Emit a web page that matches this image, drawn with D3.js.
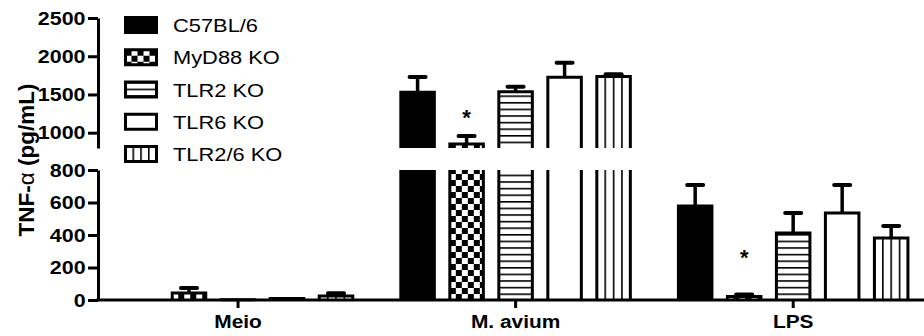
<!DOCTYPE html>
<meta charset="utf-8">
<script src="https://d3js.org/d3.v7.min.js"></script>
<style>
  body { margin: 0; background: #fff; }
  text { font-family: Arial, "Liberation Sans", sans-serif; }
</style>
<body>
<svg width="924" height="336"></svg>
<script>
    // ---- data ----
    var categories = ["Meio", "M. avium", "LPS"];
    var series     = ["C57BL/6", "MyD88 KO", "TLR2 KO", "TLR6 KO", "TLR2/6 KO"];
    var c57Mean    = [0, 1530, 578],  c57Err    = [0, 200, 130];
    var myd88Mean  = [43, 852, 22],   myd88Err  = [31, 105, 12];
    var tlr2Mean   = [2, 1535, 412],  tlr2Err   = [0, 65, 123];
    var tlr6Mean   = [10, 1725, 535], tlr6Err   = [0, 190, 173];
    var tlr26Mean  = [25, 1735, 382], tlr26Err  = [16, 30, 73];
    var lowerTicks = [0, 200, 400, 600, 800];
    var upperTicks = [1000, 1500, 2000, 2500];
    var breakAt    = 800;
    var stars      = [{cat: "M. avium", s: "MyD88 KO", v: 1260}, {cat: "LPS", s: "MyD88 KO", v: 290}];

    var means  = [c57Mean, myd88Mean, tlr2Mean, tlr6Mean, tlr26Mean];
    var errs   = [c57Err, myd88Err, tlr2Err, tlr6Err, tlr26Err];
    var fills  = ["solid", "checker", "hlines", "open", "vlines"];

    var svg = d3.select('svg');
    var defs = svg.append('defs');
    var sx = 1.1; // the figure's text is a bit stretched horizontally

    var axisX = 98;
    var x0 = d3.scaleBand().domain(categories).range([99.25, 932]);
    var x1 = d3.scaleBand().domain(series).range([16.25, 261.25]).paddingInner(0.316).paddingOuter(0.158);
    var yLow = d3.scaleLinear().domain([0, breakAt]).range([300, 170]);
    var yUp  = d3.scaleLinear().domain([breakAt, 2500]).range([148, 18]);
    function yv(v){ return v <= breakAt ? yLow(v) : yUp(v); }

    var pid = 0;
    function pattern(kind, x, y, w){
        var id = 'p' + (pid++);
        var p, cw;
        if (kind === 'checker'){
            cw = 6;
            p = defs.append('pattern').attr('id', id).attr('patternUnits', 'userSpaceOnUse')
                .attr('x', x).attr('y', y).attr('width', cw * 2).attr('height', cw * 2);
            p.append('rect').attr('width', cw * 2).attr('height', cw * 2).attr('fill', '#fff');
            p.append('rect').attr('width', cw).attr('height', cw).attr('fill', '#000');
            p.append('rect').attr('x', cw).attr('y', cw).attr('width', cw).attr('height', cw).attr('fill', '#000');
        } else if (kind === 'hlines'){
            p = defs.append('pattern').attr('id', id).attr('patternUnits', 'userSpaceOnUse')
                .attr('x', x).attr('y', y).attr('width', 10).attr('height', 6.6);
            p.append('rect').attr('width', 10).attr('height', 6.6).attr('fill', '#fff');
            p.append('rect').attr('width', 10).attr('height', 1.6).attr('fill', '#000');
        } else if (kind === 'vlines'){
            cw = w / 4;
            p = defs.append('pattern').attr('id', id).attr('patternUnits', 'userSpaceOnUse')
                .attr('x', x - 0.8).attr('y', y).attr('width', cw).attr('height', 10);
            p.append('rect').attr('width', cw).attr('height', 10).attr('fill', '#fff');
            p.append('rect').attr('width', 1.6).attr('height', 10).attr('fill', '#000');
        }
        return 'url(#' + id + ')';
    }
    function fillFor(kind, x, y, w){
        if (kind === 'solid') return '#000';
        if (kind === 'open') return '#fff';
        return pattern(kind, x, y, w);
    }

    // ---- bars ----
    var bw = x1.bandwidth();
    var gBars = svg.append('g');
    categories.forEach(function(cat, ci){
        series.forEach(function(s, si){
            var v = means[si][ci], e = errs[si][ci];
            var x = x0(cat) + x1(s);
            if (v <= 0) return;
            var f = fillFor(fills[si], x, yLow(0), bw);
            var parts = v > breakAt
                ? [{top: yLow(breakAt), bot: yLow(0), cap: false}, {top: yUp(v), bot: yUp(breakAt), cap: true}]
                : [{top: yLow(v), bot: yLow(0), cap: true}];
            parts.forEach(function(p){
                gBars.append('rect').attr('x', x).attr('y', p.top).attr('width', bw)
                    .attr('height', p.bot - p.top).attr('fill', f);
                var d = p.cap
                    ? 'M' + x + ',' + p.bot + 'V' + p.top + 'H' + (x + bw) + 'V' + p.bot
                    : 'M' + x + ',' + p.bot + 'V' + p.top + 'M' + (x + bw) + ',' + p.top + 'V' + p.bot;
                gBars.append('path').attr('d', d).attr('fill', 'none')
                    .attr('stroke', '#000').attr('stroke-width', 3);
            });
            if (e > 0){
                var cx = x + bw / 2, yt = yv(v + e);
                gBars.append('line').attr('x1', cx).attr('x2', cx).attr('y1', yv(v)).attr('y2', yt)
                    .attr('stroke', '#000').attr('stroke-width', 3.5);
                gBars.append('line').attr('x1', cx - 8).attr('x2', cx + 8).attr('y1', yt).attr('y2', yt)
                    .attr('stroke', '#000').attr('stroke-width', 4).attr('stroke-linecap', 'round');
            }
        });
    });

    // significance stars
    stars.forEach(function(st){
        svg.append('text')
            .attr('x', x0(st.cat) + x1(st.s) + bw / 2)
            .attr('y', yv(st.v) + 12)
            .attr('text-anchor', 'middle')
            .attr('font-size', 22).attr('font-weight', 'bold')
            .text('*');
    });

    // ---- axes ----
    function styleAxis(g){
        g.attr('font-family', null).attr('font-size', null);
        g.selectAll('path, line').attr('stroke', '#000').attr('stroke-width', 3);
        g.selectAll('text').attr('fill', '#000').attr('font-weight', 'bold');
    }
    var fmt = d3.format('d');
    svg.append('g').attr('transform', 'translate(' + axisX + ',0)')
        .call(d3.axisLeft(yLow).tickValues(lowerTicks).tickFormat(fmt).tickSize(10).tickSizeOuter(0).tickPadding(1))
        .call(styleAxis);
    svg.append('g').attr('transform', 'translate(' + axisX + ',0)')
        .call(d3.axisLeft(yUp).tickValues(upperTicks).tickFormat(fmt).tickSize(10).tickSizeOuter(0).tickPadding(1))
        .call(styleAxis);
    svg.selectAll('g.tick text').attr('font-size', 19)
        .attr('transform', 'scale(1.13,1)');

    var gX = svg.append('g').attr('transform', 'translate(0,' + yLow(0) + ')')
        .call(d3.axisBottom(x0).tickSize(8).tickSizeOuter(0).tickPadding(7))
        .call(styleAxis);
    gX.select('.domain').attr('d', 'M' + (axisX - 1.5) + ',0H932');
    gX.selectAll('text').attr('font-size', 19)
        .attr('transform', 'scale(' + sx + ',1)');

    // y label
    var yl = svg.append('text')
        .attr('transform', 'translate(34,160) rotate(-90)')
        .attr('text-anchor', 'middle')
        .attr('font-size', 22.5).attr('font-weight', 'bold');
    yl.append('tspan').text('TNF-');
    yl.append('tspan').attr('font-weight', 'normal').text('α');
    yl.append('tspan').text(' (pg/mL)');

    // ---- legend ----
    var legY = d3.scalePoint().domain(series).range([25, 154]);
    var leg = svg.append('g');
    series.forEach(function(s, si){
        var lx = 125.5, ly = legY(s) - 7.5;
        leg.append('rect').attr('x', lx).attr('y', ly).attr('width', 31).attr('height', 15)
            .attr('fill', fillFor(fills[si], lx, ly, 31))
            .attr('stroke', '#000').attr('stroke-width', 3);
        leg.append('text')
            .attr('transform', 'translate(173,' + (legY(s) + 7) + ') scale(' + (sx + 0.05) + ',1)')
            .attr('font-size', 19)
            .text(s);
    });
</script>
</body>
